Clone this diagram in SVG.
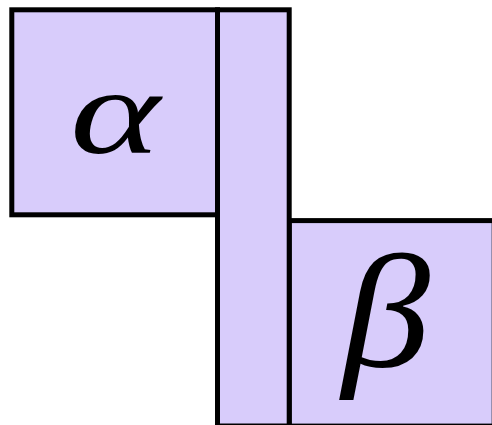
<svg xmlns="http://www.w3.org/2000/svg" width="492" height="425" viewBox="0 0 492 425">
<style>
.box{fill:#D8CCFB;stroke:#000;stroke-width:5}
.lbl{font-family:"Liberation Serif","DejaVu Serif",serif;font-style:italic;fill:#000;text-anchor:middle}
</style>
<rect width="492" height="425" fill="#fff"/>
<g id="alpha">
<rect class="box" x="11.8" y="9.8" width="205.7" height="205"/>
<text class="lbl" x="115" y="153" font-size="122" textLength="90" lengthAdjust="spacingAndGlyphs">α</text>
</g>
<g id="beta">
<rect class="box" x="289.2" y="220.6" width="205" height="205.5"/>
<text class="lbl" x="386" y="366" font-size="160" textLength="88" lengthAdjust="spacingAndGlyphs">β</text>
</g>
<g id="strip">
<rect class="box" x="217.5" y="9.8" width="71.7" height="416.2"/>
</g>
<g id="connectors"></g>
</svg>
